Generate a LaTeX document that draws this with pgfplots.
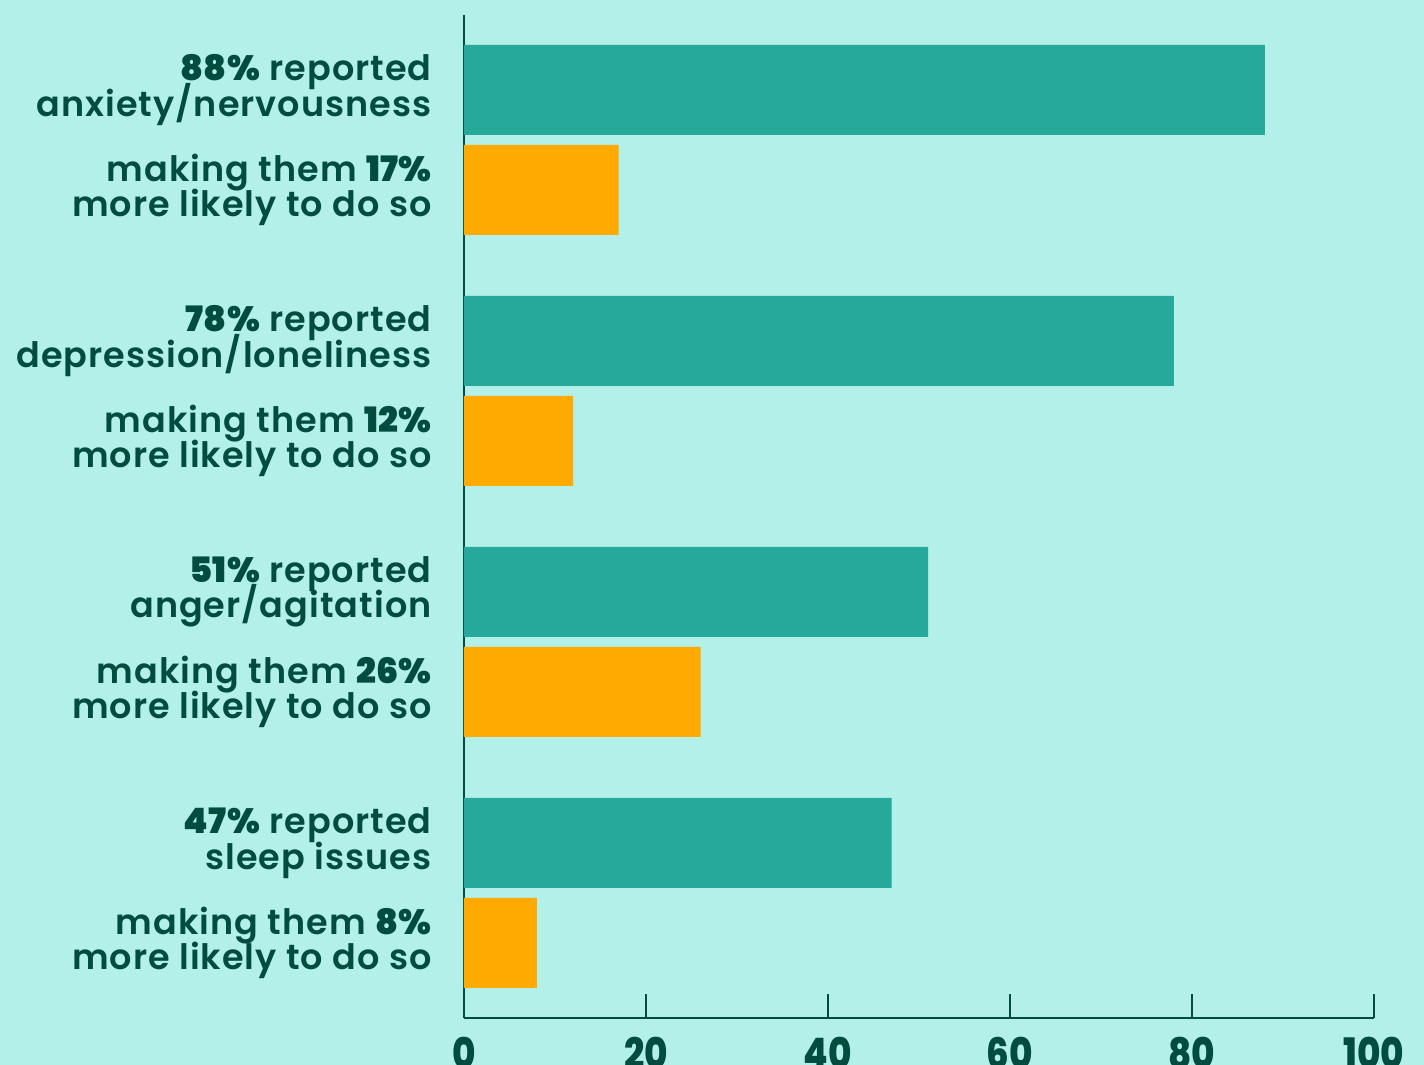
\documentclass[border=0pt]{standalone}
\usepackage{fontspec}
\setmainfont{Poppins SemiBold}[LetterSpace=3]
\newfontfamily\heavy{Poppins Black}[LetterSpace=1]
\newfontfamily\numfont{Poppins ExtraBold}[FakeStretch=0.85]
\usepackage{pgfplots}
\pgfplotsset{compat=1.18}
\definecolor{bg}{HTML}{B3F0E9}
\definecolor{teal}{HTML}{26A99B}
\definecolor{amber}{HTML}{FFAA00}
\definecolor{ink}{HTML}{004D40}
\newcommand\labelfont{\fontsize{17.5}{17.8}\selectfont\lineskiplimit=-20pt\relax\lineskip=0pt\relax}
\begin{document}
\begin{tikzpicture}
\fill[bg] (0,0) rectangle (712pt,532.5pt);
\useasboundingbox (0,0) rectangle (712pt,532.5pt);
\begin{axis}[
    at={(232pt,23.5pt)}, anchor=south west,
    scale only axis, width=455pt, height=501.5pt,
    xmin=0, xmax=100, ymin=0, ymax=1003,
    axis x line=bottom, axis y line=left,
    axis line style={ink, line width=1.3pt, -},
    xtick={0,20,40,60,80,100},
    xtick align=inside,
    x tick style={ink, line width=0.8pt},
    major tick length=12pt,
    xticklabel style={font=\numfont\fontsize{21}{21}\selectfont, text=ink, anchor=north, inner sep=0pt, yshift=-9.5pt},
    /pgf/number format/assume math mode=true,
    ytick={75,175,326,426,577,677,828,928},
    y tick style={draw=none},
    yticklabels={
      {making them {\heavy 8\%}\\more likely to do so},
      {{\heavy 47\%} reported\\sleep issues},
      {making them {\heavy 26\%}\\more likely to do so},
      {{\heavy 51\%} reported\\anger/agitation},
      {making them {\heavy 12\%}\\more likely to do so},
      {{\heavy 78\%} reported\\depression/loneliness},
      {making them {\heavy 17\%}\\more likely to do so},
      {{\heavy 88\%} reported\\anxiety/nervousness}},
    yticklabel style={align=right, text=ink, font=\labelfont, inner sep=0pt, xshift=-4pt},
    xbar, bar width=45pt, bar shift=0pt,
]
\addplot[draw=none, fill=teal] coordinates {(88,928) (78,677) (51,426) (47,175)};
\addplot[draw=none, fill=amber] coordinates {(17,828) (12,577) (26,326) (8,75)};
\end{axis}
\end{tikzpicture}
\end{document}
